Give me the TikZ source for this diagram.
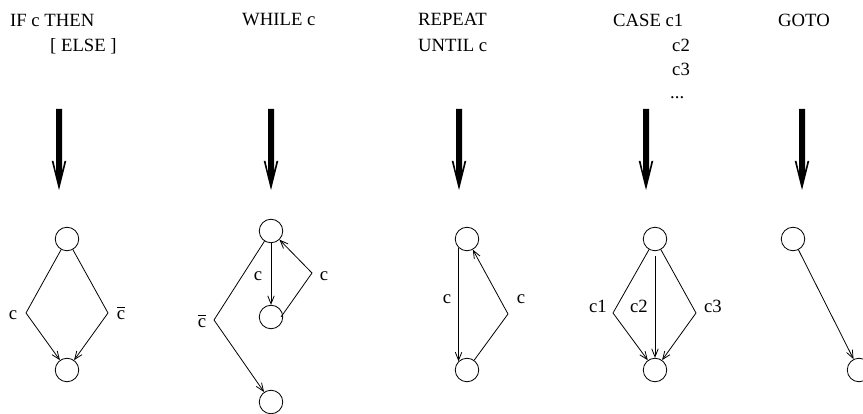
\documentclass[tikz,border=0pt]{standalone}
\usepackage{fontspec}
\setmainfont{Liberation Serif}
\usetikzlibrary{arrows.meta}
\tikzset{
  state/.style={circle, draw, line width=0.8pt, minimum size=23.5pt, inner sep=0pt},
  flow/.style={line width=0.8pt, -{Straight Barb[length=8pt,width=6.5pt]}},
  lbl/.style={inner sep=0pt, anchor=base, font=\fontsize{18.7}{22}\selectfont},
  head/.style={inner sep=0pt, anchor=base west, font=\fontsize{18.7}{22}\selectfont},
  bigarrow/.pic={
    \fill (-3,0) -- (3,0) -- (3,63) -- (5.5,52) -- (7.3,52) -- (0,81)
          -- (-7.3,52) -- (-5.5,52) -- (-3,63) -- cycle;
  },
}
% negated condition: a "c" with a high bar over it
\newcommand{\negc}{$\overline{\mbox{c}\rule{0pt}{0.62em}}$}
\begin{document}
\begin{tikzpicture}[x=1pt, y=-1pt]
  \clip (0,0) rectangle (863,414);

  % headings
  \node[head] (t1)  at (10,27)  {IF c THEN};
  \node[head] (t1b) at (50,52)  {[ ELSE ]};
  \node[head] (t2)  at (242,26) {WHILE c};
  \node[head] (t3)  at (418,26) {REPEAT};
  \node[head] (t3b) at (418,52) {UNTIL c};
  \node[head] (t4)  at (613,27) {CASE c1};
  \node[head] (t4b) at (672,52) {c2};
  \node[head] (t4c) at (672,76) {c3};
  \node[head] (t4d) at (670,99) {...};
  \node[head] (t5)  at (778,27) {GOTO};

  % thick arrows
  \pic (a1) at (59,109)  {bigarrow};
  \pic (a2) at (271,109) {bigarrow};
  \pic (a3) at (459,109) {bigarrow};
  \pic (a4) at (646,109) {bigarrow};
  \pic (a5) at (802,109) {bigarrow};

  % IF c THEN [ELSE]
  \node[state] (if1) at (67,239) {};
  \node[state] (if2) at (67,370) {};
  \coordinate (ifl) at (26,313);
  \coordinate (ifr) at (108,313);
  \draw[flow] (if1) -- (ifl) -- (if2);
  \draw[flow] (if1) -- (ifr) -- (if2);
  \node[lbl] (ifc)  at (13,320)  {c};
  \node[lbl] (ifnc) at (121,320) {\negc};

  % WHILE c
  \node[state] (w1) at (271,231) {};
  \node[state] (w2) at (271,317) {};
  \node[state] (w3) at (271,402) {};
  \coordinate (wr) at (312,273);
  \coordinate (wl) at (214,320);
  \draw[flow] (w1) -- (w2);
  \draw[flow] ([xshift=10pt]w2.center) -- (wr) -- (w1);
  \draw[flow] (w1) -- (wl) -- (w3);
  \node[lbl] (wc1) at (258,281) {c};
  \node[lbl] (wc2) at (324,281) {c};
  \node[lbl] (wnc) at (202,328) {\negc};

  % REPEAT ... UNTIL c
  \node[state] (r1) at (467,239) {};
  \node[state] (r2) at (467,370) {};
  \coordinate (rr) at (508,314);
  \draw[flow] (r1.226) -- (r2.134);
  \draw[flow] (r2) -- (rr) -- (r1);
  \node[lbl] (rc1) at (447,304) {c};
  \node[lbl] (rc2) at (521,304) {c};

  % CASE
  \node[state] (k1) at (655,239) {};
  \node[state] (k2) at (655,370) {};
  \coordinate (kl) at (613,313);
  \coordinate (kr) at (696,313);
  \draw[flow] (k1) -- (kl) -- (k2);
  \draw[flow] (k1) -- (kr) -- (k2);
  \draw[flow] ([yshift=-5pt]k1.south) -- (k2);
  \node[lbl] (kc1) at (598,313) {c1};
  \node[lbl] (kc2) at (639,313) {c2};
  \node[lbl] (kc3) at (713,313) {c3};

  % GOTO
  \node[state] (g1) at (793,239) {};
  \node[state] (g2) at (859,370) {};
  \draw[flow] (g1) -- (g2);
\end{tikzpicture}
\end{document}
